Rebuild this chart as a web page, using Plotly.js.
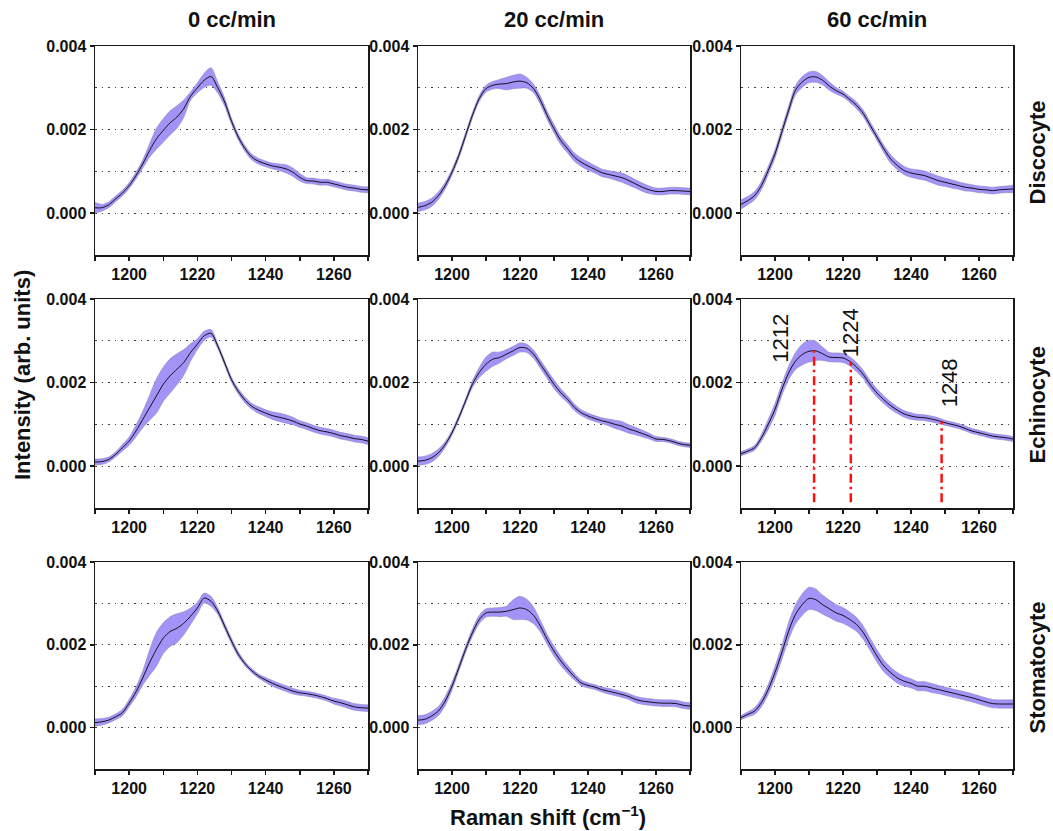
<!DOCTYPE html>
<html>
<head>
<meta charset="utf-8">
<script src="https://cdn.plot.ly/plotly-3.0.1.min.js"></script>
<style>html,body{margin:0;padding:0;background:#fff;}#chart{width:1053px;height:831px;}</style>
</head>
<body>
<div id="chart"></div>
<script>
// ---------------- data ----------------
const ramanShift = [1190,1192,1194,1196,1198,1200,1202,1204,1206,1208,1210,1212,1214,1216,1218,1220,1222,1224,1226,1228,1230,1232,1234,1236,1238,1240,1242,1244,1246,1248,1250,1252,1254,1256,1258,1260,1262,1264,1266,1268,1270];

const flowRates = ['0 cc/min','20 cc/min','60 cc/min'];
const cellShapes = ['Discocyte','Echinocyte','Stomatocyte'];

// Discocyte
const discocyte0Mean  = [0.00013,0.00013,0.0002,0.00034,0.00048,0.00066,0.0009,0.00118,0.0015,0.00178,0.00198,0.00216,0.0023,0.0025,0.0028,0.003,0.00318,0.00327,0.003,0.00266,0.0022,0.00182,0.00154,0.00134,0.00124,0.00118,0.00113,0.0011,0.00106,0.00098,0.00086,0.00078,0.00077,0.00074,0.00074,0.0007,0.00066,0.00062,0.0006,0.00057,0.00056];
const discocyte0Sd    = [0.00013,0.00008,0.00007,0.00007,0.00007,0.00007,0.00008,0.0001,0.00016,0.00025,0.00028,0.00029,0.00027,0.00021,0.0001,0.00012,0.00017,0.00021,0.00013,0.0001,0.00007,0.00007,0.00007,0.00007,0.00007,0.00007,0.00007,0.00008,0.0001,0.0001,0.00009,0.00007,0.00007,0.00007,0.00007,0.00007,0.00007,0.00007,0.00007,0.00007,0.00007];
const discocyte20Mean = [0.00014,0.00018,0.00026,0.00042,0.00066,0.00098,0.00138,0.00186,0.00234,0.00274,0.00298,0.00306,0.00309,0.0031,0.00314,0.00316,0.00312,0.00298,0.0027,0.00234,0.00202,0.00174,0.00154,0.00134,0.00122,0.00113,0.00105,0.00097,0.00093,0.00089,0.00085,0.00078,0.0007,0.00062,0.00056,0.00052,0.00052,0.00054,0.00054,0.00053,0.00052];
const discocyte20Sd   = [0.0001,0.0001,0.0001,0.00009,0.00008,0.00007,0.00007,0.00007,0.00007,0.00007,0.00008,0.00009,0.00011,0.00015,0.00016,0.00017,0.00013,0.0001,0.0001,0.0001,0.0001,0.0001,0.0001,0.0001,0.0001,0.0001,0.00009,0.00009,0.00009,0.0001,0.00011,0.00011,0.0001,0.0001,0.00009,0.00008,0.00008,0.00008,0.00008,0.00008,0.00008];
const discocyte60Mean = [0.00021,0.0003,0.00042,0.00066,0.00102,0.00142,0.00194,0.00246,0.00294,0.00314,0.00325,0.00326,0.00318,0.00304,0.00293,0.00285,0.00272,0.00258,0.00238,0.0021,0.00182,0.00154,0.0013,0.00114,0.00102,0.00096,0.00093,0.0009,0.00084,0.00078,0.00074,0.0007,0.00066,0.00062,0.0006,0.00057,0.00056,0.00054,0.00056,0.00057,0.00058];
const discocyte60Sd   = [0.00011,0.0001,0.0001,0.0001,0.0001,0.0001,0.0001,0.0001,0.00011,0.00013,0.00013,0.00013,0.00011,0.0001,0.00008,0.00007,0.00007,0.00008,0.00008,0.00008,0.00008,0.00009,0.0001,0.0001,0.0001,0.0001,0.00011,0.00011,0.00011,0.00011,0.0001,0.0001,0.00009,0.00009,0.00008,0.00008,0.00008,0.00008,0.00008,0.00008,0.00009];

// Echinocyte
const echinocyte0Mean  = [0.0001,0.00011,0.00016,0.00028,0.00044,0.0006,0.00084,0.00112,0.0014,0.00168,0.00196,0.00216,0.00232,0.00248,0.00272,0.00292,0.00312,0.00318,0.00287,0.00247,0.00207,0.00179,0.00158,0.00143,0.00134,0.00127,0.00121,0.00117,0.00113,0.00108,0.00101,0.00096,0.0009,0.00085,0.00082,0.00078,0.00073,0.0007,0.00066,0.00064,0.0006];
const echinocyte0Sd    = [0.00007,0.00007,0.00006,0.00006,0.00008,0.0001,0.00014,0.0002,0.0003,0.00041,0.00041,0.00041,0.00037,0.00031,0.00021,0.00013,0.00011,0.00009,0.00006,0.00006,0.00006,0.00006,0.00007,0.00007,0.00008,0.00008,0.00009,0.0001,0.0001,0.00009,0.00008,0.00008,0.00008,0.00008,0.00008,0.00008,0.00008,0.00008,0.00008,0.00008,0.00008];
const echinocyte20Mean = [0.00012,0.00014,0.0002,0.00032,0.00052,0.0008,0.00116,0.00156,0.00196,0.00224,0.00244,0.00256,0.0026,0.00268,0.00276,0.00284,0.00282,0.00268,0.00244,0.0022,0.00196,0.00176,0.0016,0.00141,0.00128,0.0012,0.00114,0.00109,0.00105,0.001,0.00096,0.00089,0.00084,0.00078,0.00072,0.00065,0.00064,0.00061,0.00056,0.00052,0.0005];
const echinocyte20Sd   = [0.0001,0.0001,0.0001,0.00009,0.00007,0.00006,0.00006,0.00006,0.00008,0.00012,0.00017,0.00017,0.00013,0.00011,0.00011,0.00011,0.0001,0.0001,0.0001,0.0001,0.0001,0.00009,0.00008,0.00008,0.00007,0.00007,0.00007,0.00007,0.00008,0.0001,0.00011,0.0001,0.00009,0.00008,0.00007,0.00006,0.00005,0.00005,0.00005,0.00005,0.00005];
const echinocyte60Mean = [0.0003,0.00036,0.00044,0.00068,0.001,0.00136,0.00183,0.00223,0.00251,0.00267,0.00275,0.00276,0.00269,0.00261,0.0026,0.00259,0.00251,0.00237,0.00219,0.00195,0.00175,0.00159,0.00145,0.00134,0.00125,0.0012,0.00117,0.00116,0.00113,0.00109,0.00104,0.001,0.00096,0.0009,0.00084,0.0008,0.00076,0.00072,0.0007,0.00068,0.00065];
const echinocyte60Sd   = [0.00005,0.00005,0.00006,0.00008,0.00012,0.00014,0.00014,0.00016,0.0002,0.00025,0.00026,0.00023,0.00016,0.00011,0.00011,0.00011,0.00011,0.00011,0.0001,0.0001,0.0001,0.00009,0.00009,0.00008,0.00008,0.00008,0.00007,0.00007,0.00007,0.00007,0.00006,0.00006,0.00006,0.00006,0.00006,0.00006,0.00006,0.00006,0.00006,0.00006,0.00006];

// Stomatocyte
const stomatocyte0Mean  = [0.00012,0.00014,0.00018,0.00026,0.00036,0.00059,0.00086,0.0012,0.00157,0.00189,0.00216,0.00232,0.0024,0.00252,0.00269,0.00289,0.00313,0.00305,0.00281,0.00245,0.00209,0.00177,0.00154,0.00137,0.00124,0.00115,0.00107,0.001,0.00094,0.00088,0.00084,0.00082,0.00079,0.00075,0.0007,0.00064,0.0006,0.00055,0.0005,0.00048,0.00047];
const stomatocyte0Sd    = [0.00009,0.00008,0.00007,0.00007,0.00008,0.00009,0.00012,0.00017,0.00031,0.00041,0.00037,0.00036,0.00035,0.00028,0.0002,0.00014,0.00012,0.00012,0.00008,0.00007,0.00007,0.00006,0.00005,0.00005,0.00005,0.00006,0.00007,0.00007,0.00007,0.00007,0.00006,0.00006,0.00006,0.00006,0.00006,0.00007,0.00008,0.00008,0.00008,0.00008,0.00008];
const stomatocyte20Mean = [0.00018,0.0002,0.00028,0.0004,0.00064,0.001,0.00144,0.00189,0.00229,0.00261,0.00277,0.00279,0.00279,0.00281,0.00285,0.00289,0.00285,0.00271,0.00245,0.00213,0.00185,0.00161,0.00141,0.00123,0.00108,0.00102,0.00098,0.00092,0.00088,0.00084,0.0008,0.00075,0.00068,0.00064,0.00062,0.0006,0.00059,0.00059,0.00058,0.00054,0.00052];
const stomatocyte20Sd   = [0.00011,0.00011,0.00011,0.00011,0.00011,0.0001,0.00008,0.00008,0.00009,0.0001,0.0001,0.0001,0.00011,0.00012,0.00024,0.00028,0.00025,0.0002,0.00014,0.00012,0.00012,0.00011,0.0001,0.00008,0.00007,0.00006,0.00006,0.00006,0.00007,0.00007,0.00007,0.00007,0.00008,0.00008,0.00008,0.00008,0.00008,0.00008,0.00008,0.00008,0.00008];
const stomatocyte60Mean = [0.00024,0.00032,0.0004,0.0006,0.00092,0.00133,0.00181,0.00233,0.00273,0.00297,0.00312,0.00309,0.00297,0.00287,0.00277,0.00271,0.00261,0.00249,0.00229,0.00201,0.00173,0.00149,0.00133,0.0012,0.00112,0.00107,0.001,0.001,0.00096,0.00092,0.00088,0.00084,0.0008,0.00076,0.00072,0.00067,0.00062,0.00058,0.00057,0.00057,0.00057];
const stomatocyte60Sd   = [0.00005,0.00006,0.00008,0.0001,0.00012,0.00015,0.00017,0.00021,0.00023,0.00026,0.00027,0.00026,0.00023,0.00021,0.0002,0.00019,0.00018,0.00017,0.00016,0.00015,0.00015,0.00014,0.00013,0.00013,0.00012,0.00011,0.00011,0.00011,0.00011,0.0001,0.0001,0.0001,0.0001,0.0001,0.0001,0.0001,0.0001,0.0001,0.0001,0.0001,0.0001];

// peak markers (Echinocyte, 60 cc/min)
const peakLabels = ['1212','1224','1248'];
const peakPositions = [1211.5, 1222.3, 1249];
const peakTops = [0.00277, 0.0025, 0.00107];
const peakBase = -0.00086;

const xTickVals = [1200,1220,1240,1260];
const xMinorVals = [1190,1210,1230,1250,1270];
const yTickVals = [0,0.002,0.004];
const yTickText = ['0.000','0.002','0.004'];
const yMinorVals = [0.001,0.003];

// ---------------- build ----------------
const panels = [
  [discocyte0Mean, discocyte0Sd], [discocyte20Mean, discocyte20Sd], [discocyte60Mean, discocyte60Sd],
  [echinocyte0Mean, echinocyte0Sd], [echinocyte20Mean, echinocyte20Sd], [echinocyte60Mean, echinocyte60Sd],
  [stomatocyte0Mean, stomatocyte0Sd], [stomatocyte20Mean, stomatocyte20Sd], [stomatocyte60Mean, stomatocyte60Sd]
];

const W = 1053, H = 831;
const colPx = [[95,368],[418,690],[741,1013]];
const rowPx = [[46,255],[299,508],[562,769]];

const FONT = 'Liberation Sans, Arial, Helvetica, sans-serif';
const bandFill = 'rgba(155,138,245,0.92)';
const bandEdge = 'rgba(140,132,185,0.9)';

const traces = [];
const layout = {
  width: W, height: H,
  margin: {l:0, r:0, t:0, b:0},
  paper_bgcolor: '#fff', plot_bgcolor: '#fff',
  showlegend: false,
  font: {family: FONT, color: '#111'},
  annotations: []
};

panels.forEach(function(p, i) {
  const r = Math.floor(i / 3), c = i % 3;
  const n = i + 1;
  const xa = n === 1 ? 'x' : 'x' + n;
  const ya = n === 1 ? 'y' : 'y' + n;
  const mean = p[0], sd = p[1];
  const upper = mean.map(function(v, k){ return v + sd[k]; });
  const lower = mean.map(function(v, k){ return v - sd[k]; });
  traces.push({x: ramanShift, y: upper, xaxis: xa, yaxis: ya, mode: 'lines',
    line: {color: bandEdge, width: 0.6, shape: 'spline', smoothing: 0.8}, hoverinfo: 'skip'});
  traces.push({x: ramanShift, y: lower, xaxis: xa, yaxis: ya, mode: 'lines', fill: 'tonexty',
    fillcolor: bandFill, line: {color: bandEdge, width: 0.6, shape: 'spline', smoothing: 0.8}, hoverinfo: 'skip'});
  traces.push({x: ramanShift, y: mean, xaxis: xa, yaxis: ya, mode: 'lines',
    line: {color: '#000', width: 0.9, shape: 'spline', smoothing: 0.8}});

  const common = {
    showline: true, linecolor: '#1a1a1a', linewidth: 1.5, mirror: true,
    ticks: 'outside', tickcolor: '#1a1a1a', tickwidth: 1.5, ticklen: 4,
    zeroline: false, fixedrange: true,
    tickfont: {family: FONT, size: 16, weight: 'bold', color: '#111'}
  };
  layout['xaxis' + (n === 1 ? '' : n)] = Object.assign({}, common, {
    anchor: ya,
    domain: [colPx[c][0] / W, colPx[c][1] / W],
    range: [1190, 1270],
    tickmode: 'array', tickvals: xTickVals,
    showgrid: false,
    minor: {tickvals: xMinorVals, ticks: 'outside', ticklen: 4, tickcolor: '#1a1a1a', tickwidth: 1.5, showgrid: false}
  });
  layout['yaxis' + (n === 1 ? '' : n)] = Object.assign({}, common, {
    anchor: xa,
    domain: [1 - rowPx[r][1] / H, 1 - rowPx[r][0] / H],
    range: [-0.001, 0.004],
    tickmode: 'array', tickvals: yTickVals, ticktext: yTickText,
    showgrid: true, gridcolor: '#444', gridwidth: 1.3, griddash: '1.5px,5px',
    minor: {tickvals: yMinorVals, ticks: '', showgrid: true, gridcolor: '#444', gridwidth: 1.3, griddash: '1.5px,5px'}
  });
});

// peak marker lines in Echinocyte / 60 cc/min panel
peakPositions.forEach(function(px, k) {
  traces.push({x: [px, px], y: [peakBase, peakTops[k]], xaxis: 'x6', yaxis: 'y6', mode: 'lines',
    line: {color: '#ff1010', width: 2.5, dash: '9px,4px,2.5px,4px'}});
});
const peakLabelPos = [[1201.7, 0.00307], [1222.3, 0.0032], [1251.4, 0.002]];
peakLabels.forEach(function(t, k) {
  layout.annotations.push({xref: 'x6', yref: 'y6', x: peakLabelPos[k][0], y: peakLabelPos[k][1],
    text: t, showarrow: false, textangle: -90, xanchor: 'center', yanchor: 'middle',
    font: {family: FONT, size: 22, color: '#111'}});
});

// column titles
flowRates.forEach(function(t, c) {
  layout.annotations.push({xref: 'paper', yref: 'paper', x: (colPx[c][0] + colPx[c][1]) / 2 / W, y: 1 - 19.5 / H,
    text: t, showarrow: false, xanchor: 'center', yanchor: 'middle',
    font: {family: FONT, size: 22, weight: 'bold', color: '#111'}});
});
// row labels
cellShapes.forEach(function(t, r) {
  layout.annotations.push({xref: 'paper', yref: 'paper', x: 1037 / W, y: 1 - ((rowPx[r][0] + rowPx[r][1]) / 2 + 2) / H,
    text: t, showarrow: false, textangle: -90, xanchor: 'center', yanchor: 'middle',
    font: {family: FONT, size: 22, weight: 'bold', color: '#111'}});
});
// axis titles
layout.annotations.push({xref: 'paper', yref: 'paper', x: 22 / W, y: 1 - 375 / H,
  text: 'Intensity (arb. units)', showarrow: false, textangle: -90, xanchor: 'center', yanchor: 'middle',
  font: {family: FONT, size: 22, weight: 'bold', color: '#111'}});
layout.annotations.push({xref: 'paper', yref: 'paper', x: 548 / W, y: 1 - 816 / H,
  text: 'Raman shift (cm<sup>−1</sup>)', showarrow: false, xanchor: 'center', yanchor: 'middle',
  font: {family: FONT, size: 22, weight: 'bold', color: '#111'}});

Plotly.newPlot('chart', traces, layout, {staticPlot: true, displayModeBar: false});
</script>
</body>
</html>
